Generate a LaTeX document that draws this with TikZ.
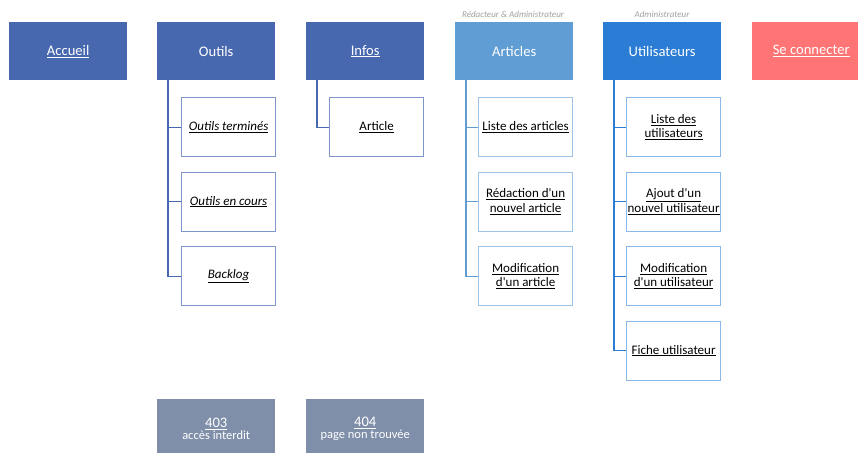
\documentclass[tikz,border=0pt]{standalone}
\usepackage{fontspec}
\setmainfont{Carlito}
\definecolor{dblue}{HTML}{4767AF}
\definecolor{artblue}{HTML}{5F9DD4}
\definecolor{usrblue}{HTML}{2B7CD5}
\definecolor{conred}{HTML}{FF7575}
\definecolor{errgrey}{HTML}{7F8EA9}
\definecolor{cb1}{HTML}{8096CB}
\definecolor{cb2}{HTML}{9DC3E6}
\definecolor{cb3}{HTML}{8AB9EA}
\definecolor{rolegrey}{HTML}{A0A0A0}
\newcommand{\apos}{\textquotesingle}
\begin{document}
\begin{tikzpicture}[x=1pt,y=-1pt,
  topbox/.style={rectangle, inner sep=0pt, minimum width=118pt, minimum height=58pt,
    anchor=north west, text=white, align=center, font=\fontsize{14.6}{16}\selectfont},
  childbox/.style={rectangle, draw, line width=1.2pt, fill=white, inner sep=0pt,
    minimum width=94pt, minimum height=59pt, anchor=north west, align=center,
    font=\fontsize{13}{14.4}\selectfont},
  errbox/.style={rectangle, inner sep=0pt, minimum width=118pt, minimum height=60pt,
    anchor=north west, fill=errgrey, text=white, align=center},
  rolelabel/.style={text=rolegrey, font=\fontsize{9}{10}\selectfont\itshape, inner sep=0pt},
  conn/.style={line width=1.1pt}
]
\clip (0,0) rectangle (858,452);
\useasboundingbox (0,0) rectangle (858,452);

% top level
\node[topbox, fill=dblue] (accueil) at (9,22) {\underline{Accueil}};
\node[topbox, fill=dblue] (outils) at (157,22) {Outils};
\node[topbox, fill=dblue] (infos) at (306,22) {\underline{Infos}};
\node[topbox, fill=artblue] (articles) at (455,22) {Articles};
\node[topbox, fill=usrblue] (users) at (603,22) {Utilisateurs};
\node[topbox, fill=conred] (connect) at (752,22) {\underline{Se connecter}};

% role labels
\node[rolelabel] (roleart) at (513,14) {Rédacteur \& Administrateur};
\node[rolelabel] (roleusr) at (662,14) {Administrateur};

% Outils children
\node[childbox, draw=cb1, font=\fontsize{13}{14.4}\selectfont\itshape] (ot1) at (181,97) {\underline{Outils terminés}};
\node[childbox, draw=cb1, font=\fontsize{13}{14.4}\selectfont\itshape] (ot2) at (181,171.5) {\underline{Outils en cours}};
\node[childbox, draw=cb1, font=\fontsize{13}{14.4}\selectfont\itshape] (ot3) at (181,246) {\underline{Backlog}};
\foreach \c in {ot1,ot2,ot3}
  \draw[conn, dblue] (\c.west) -| ([xshift=11pt]outils.south west);

% Infos children
\node[childbox, draw=cb1] (in1) at (329,97) {\underline{Article}};
\draw[conn, dblue] (in1.west) -| ([xshift=11pt]infos.south west);

% Articles children
\node[childbox, draw=cb2] (ar1) at (478,97) {\underline{Liste des articles}};
\node[childbox, draw=cb2] (ar2) at (478,171.5) {\underline{Rédaction d\apos un}\\\underline{nouvel article}};
\node[childbox, draw=cb2] (ar3) at (478,246) {\underline{Modification}\\\underline{d\apos un article}};
\foreach \c in {ar1,ar2,ar3}
  \draw[conn, artblue] (\c.west) -| ([xshift=11pt]articles.south west);

% Utilisateurs children
\node[childbox, draw=cb3] (us1) at (626,97) {\underline{Liste des}\\\underline{utilisateurs}};
\node[childbox, draw=cb3] (us2) at (626,171.5) {\underline{Ajout d\apos un}\\\underline{nouvel utilisateur}};
\node[childbox, draw=cb3] (us3) at (626,246) {\underline{Modification}\\\underline{d\apos un utilisateur}};
\node[childbox, draw=cb3] (us4) at (626,320.5) {\underline{Fiche utilisateur}};
\foreach \c in {us1,us2,us3,us4}
  \draw[conn, usrblue] (\c.west) -| ([xshift=11pt]users.south west);

% error pages
\node[errbox] (e403) at (157,399) {{\fontsize{14.6}{15}\selectfont\underline{403}}\\{\fontsize{12.5}{14}\selectfont accès interdit}};
\node[errbox] (e404) at (306,399) {{\fontsize{14.6}{15}\selectfont\underline{404}}\\{\fontsize{12.5}{14}\selectfont page non trouvée}};
\end{tikzpicture}
\end{document}
